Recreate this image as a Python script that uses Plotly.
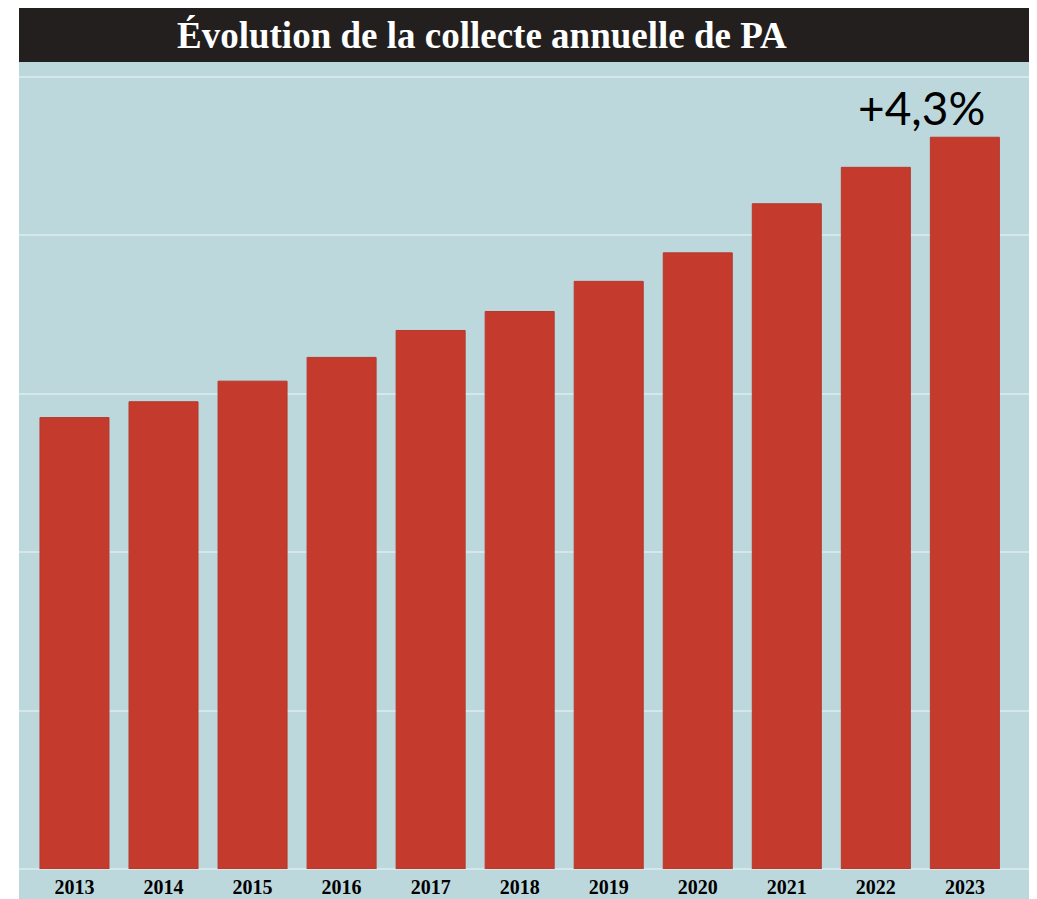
import plotly.graph_objects as go

# collecte annuelle (unités relatives)
years = ["2013", "2014", "2015", "2016", "2017", "2018", "2019", "2020", "2021", "2022", "2023"]
collecte = [285, 295, 308, 323, 340, 352, 371, 389, 420, 443, 462]
growth_label = "+4,3%"
title_text = "Évolution de la collecte annuelle de PA"

blue = "#BDD8DD"
red = "#C43B2D"
band = "#231F1E"

fig = go.Figure()
fig.add_trace(go.Bar(
    x=years, y=collecte,
    marker=dict(color=red, line=dict(color="#B5392C", width=1)),
    hoverinfo="x+y",
))

# the page body has an 8px margin, so the figure is a bit smaller
W, H = 1029, 891
top, bottom = 54, 30
plot_h = H - top - bottom

fig.update_layout(
    width=W, height=H,
    margin=dict(l=11, r=0, t=top, b=bottom),
    paper_bgcolor="white",
    plot_bgcolor=blue,
    showlegend=False,
    bargap=0.225,
    xaxis=dict(
        type="category",
        range=[-0.623, 10.81],
        showgrid=False, zeroline=False, showline=False,
        ticks="",
        tickfont=dict(family="Liberation Serif", size=20, color="black", weight="bold"),
        ticklabelstandoff=4,
    ),
    yaxis=dict(
        range=[0, 509.5],
        dtick=100,
        showgrid=True, gridcolor="#D4E7EB", gridwidth=2,
        zeroline=True, zerolinecolor="#D4E7EB", zerolinewidth=2,
        showticklabels=False, ticks="",
    ),
    shapes=[
        # bande bleue sous l'axe
        dict(type="rect", xref="paper", yref="paper", x0=0, x1=1,
             y0=-bottom / plot_h, y1=0, fillcolor=blue, line=dict(width=0), layer="below"),
        # bandeau du titre
        dict(type="rect", xref="paper", yref="paper", x0=0, x1=1,
             y0=1, y1=1 + 56 / plot_h, fillcolor=band, line=dict(width=0)),
    ],
    annotations=[
        dict(text="<b>" + title_text + "</b>", xref="paper", yref="paper",
             x=0.455, y=1 + 27 / plot_h, xanchor="center", yanchor="middle",
             showarrow=False,
             font=dict(family="Liberation Serif", size=37, color="white")),
        dict(text=growth_label, x=len(years) - 1, y=collecte[-1], xref="x", yref="y",
             xanchor="center", yanchor="bottom", xshift=-43, yshift=0,
             showarrow=False,
             font=dict(family="Lato", size=46, color="black")),
    ],
)

fig.write_html("out.html")
